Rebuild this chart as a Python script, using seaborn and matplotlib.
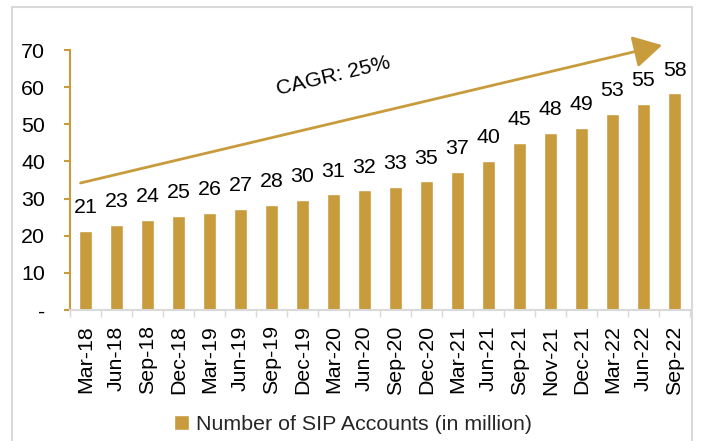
import matplotlib
matplotlib.use("Agg")
import matplotlib.pyplot as plt
import seaborn as sns
import pandas as pd
from matplotlib.patches import Rectangle, FancyArrowPatch

categories = ["Mar-18", "Jun-18", "Sep-18", "Dec-18", "Mar-19", "Jun-19", "Sep-19",
              "Dec-19", "Mar-20", "Jun-20", "Sep-20", "Dec-20", "Mar-21", "Jun-21",
              "Sep-21", "Nov-21", "Dec-21", "Mar-22", "Jun-22", "Sep-22"]
values = [21.2, 23.0, 24.3, 25.3, 26.1, 27.3, 28.3, 29.6, 31.1, 32.2, 33.2, 34.6,
          37.2, 40.1, 44.9, 47.7, 49.0, 52.7, 55.4, 58.3]
series_name = "Number of SIP Accounts (in million)"
yticks = [0, 10, 20, 30, 40, 50, 60, 70]
ytick_labels = ["-", "10", "20", "30", "40", "50", "60", "70"]
cagr_text = "CAGR: 25%"

gold = "#C89B3C"
FS = 15.4
sns.set_theme(style="white")
plt.rcParams["font.family"] = ["Liberation Sans", "DejaVu Sans"]

df = pd.DataFrame({"Period": categories, "Accounts": values})

fig = plt.figure(figsize=(7.01, 4.41), dpi=100)
ax = fig.add_axes([70 / 701, 1 - 310 / 441, 620 / 701, 260 / 441])

sns.barplot(data=df, x="Period", y="Accounts", color=gold, width=0.4,
            saturation=1, ax=ax, label=series_name)
if ax.get_legend() is not None:
    ax.get_legend().remove()

ax.set_xlim(-0.5, len(categories) - 0.5)
ax.set_ylim(0, 70)
ax.set_xlabel("")
ax.set_ylabel("")

for c in ax.containers:
    ax.bar_label(c, fmt="%.0f", padding=10, fontsize=FS, color="black")

ax.set_yticks(yticks)
ax.set_yticklabels(ytick_labels)
ax.tick_params(axis="y", left=True, length=4, width=1.5, color=gold,
               labelsize=FS, pad=14, labelcolor="black")

ax.set_xticks(range(len(categories)))
ax.set_xticklabels(categories, rotation=90)
ax.tick_params(axis="x", which="major", length=0, labelsize=FS, pad=11,
               labelcolor="black")
ax.set_xticks([i - 0.5 for i in range(len(categories) + 1)], minor=True)
ax.tick_params(axis="x", which="minor", bottom=True, length=5, width=1,
               color="#d9d9d9")

for s in ["top", "right"]:
    ax.spines[s].set_visible(False)
ax.spines["left"].set_color(gold)
ax.spines["left"].set_linewidth(1.5)
ax.spines["bottom"].set_color("#d9d9d9")
ax.spines["bottom"].set_linewidth(1.5)

arrow = FancyArrowPatch((-0.16, 34.2), (18.6, 71.3), arrowstyle="-|>,head_length=8,head_width=4.5",
                        color=gold, lw=2, clip_on=False, mutation_scale=2.2,
                        shrinkA=0, shrinkB=0)
ax.add_patch(arrow)
ax.text(8.0, 63.0, cagr_text, rotation=13.5, ha="center", va="center",
        fontsize=FS, color="black", rotation_mode="anchor")

handles, labels = ax.get_legend_handles_labels()
leg = fig.legend(handles[:1], labels[:1], loc="center",
                 bbox_to_anchor=(353 / 701, 1 - 424 / 441),
                 frameon=False, fontsize=FS, handlelength=0.7, handleheight=0.7,
                 handletextpad=0.3)

fig.patches.append(Rectangle((12 / 701, -0.05), (692 - 12) / 701, 1 - 7 / 441 + 0.05,
                             transform=fig.transFigure, fill=False,
                             edgecolor="#d9d9d9", lw=1.5))

fig.savefig("out.png", dpi=100)
